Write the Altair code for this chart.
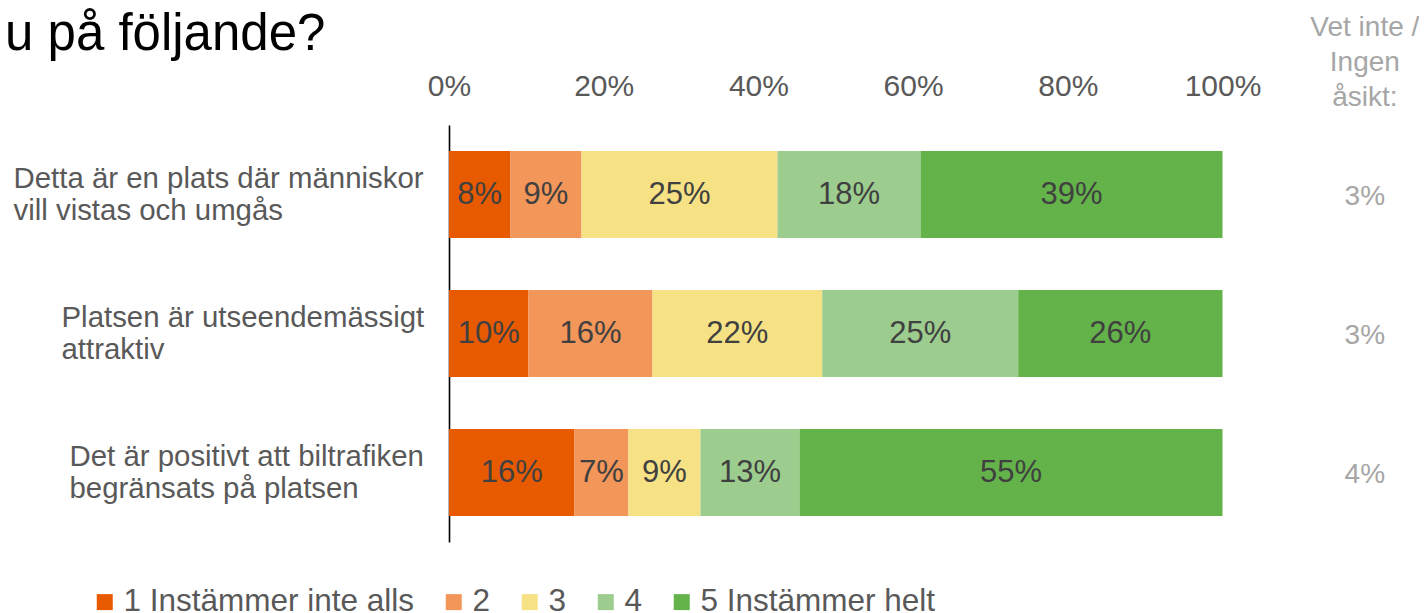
import altair as alt
import pandas as pd

# ---- data ----
questions = [
    "Detta är en plats där människor|vill vistas och umgås",
    "Platsen är utseendemässigt|attraktiv",
    "Det är positivt att biltrafiken|begränsats på platsen",
]
categories = ["1 Instämmer inte alls", "2", "3", "4", "5 Instämmer helt"]
colors = ["#E85A00", "#F29659", "#F6E285", "#9DCC8F", "#63B34A"]

values_q1 = [7.95, 9.18, 25.34, 18.49, 39.04]
values_q2 = [10.28, 16.03, 21.94, 25.34, 26.41]
values_q3 = [16.22, 6.98, 9.31, 12.80, 54.69]

labels_q1 = ["8%", "9%", "25%", "18%", "39%"]
labels_q2 = ["10%", "16%", "22%", "25%", "26%"]
labels_q3 = ["16%", "7%", "9%", "13%", "55%"]

dont_know = ["3%", "3%", "4%"]
dont_know_header = "Vet inte /|Ingen|åsikt:"
title_text = "u på följande?"
axis_ticks = [0, 20, 40, 60, 80, 100]

# ---- tables ----
rows = []
for q, vals, labs in zip(questions, [values_q1, values_q2, values_q3],
                         [labels_q1, labels_q2, labels_q3]):
    for i, (c, v, l) in enumerate(zip(categories, vals, labs)):
        rows.append({"question": q, "category": c, "order": i, "value": v, "label": l})
df = pd.DataFrame(rows)
df_dk = pd.DataFrame({"question": questions, "dk": dont_know})
df_head = pd.DataFrame({"t": [dont_know_header]})
df_title = pd.DataFrame({"t": [title_text]})

FONT = "Liberation Sans"
DK_X = 118.4

# left-aligned two-line category labels (block right edge near the axis)
label_padding = {
    "condition": [
        {"test": "indexof(datum.value, 'Detta') == 0", "value": 436},
        {"test": "indexof(datum.value, 'Platsen') == 0", "value": 388},
    ],
    "value": 380,
}

y_enc = alt.Y(
    "question:N",
    sort=questions,
    scale=alt.Scale(paddingInner=0.374, paddingOuter=0.187),
    axis=alt.Axis(
        title=None, ticks=False, tickSize=0, domain=True, domainColor="#000000",
        domainWidth=1.6, labelFontSize=29.4, labelColor="#595959",
        labelPadding=label_padding, labelAlign="left", labelOffset=-16,
        labelExpr="split(datum.label, '|')", labelLineHeight=32, labelLimit=0,
        labelFont=FONT,
    ),
)

x_scale = alt.Scale(domain=[0, 100], nice=False, zero=True)

bars = alt.Chart(df).mark_bar().encode(
    y=y_enc,
    x=alt.X(
        "value:Q", stack="zero", scale=x_scale,
        axis=alt.Axis(
            orient="top", values=axis_ticks, labelExpr="datum.value + '%'",
            title=None, ticks=False, tickSize=0, domain=False, grid=False,
            labelFlush=False, labelFontSize=30, labelColor="#595959",
            labelPadding=24, labelFont=FONT,
        ),
    ),
    color=alt.Color(
        "category:N",
        scale=alt.Scale(domain=categories, range=colors),
        legend=alt.Legend(
            orient="none", legendX=-360, legendY=461, direction="horizontal",
            title=None, symbolType="square", symbolSize=256, symbolStrokeWidth=0,
            labelFontSize=31.5, labelColor="#595959", labelOffset=3,
            columnPadding=23, padding=0, labelLimit=0, labelFont=FONT,
        ),
    ),
    order=alt.Order("order:Q"),
)

value_text = alt.Chart(df).transform_stack(
    stack="value", groupby=["question"], as_=["x0", "x1"],
    sort=[alt.SortField("order", order="ascending")],
).transform_calculate(mid="(datum.x0 + datum.x1) / 2").mark_text(
    fontSize=31, color="#404040", font=FONT, baseline="middle", align="center"
).encode(
    y=alt.Y("question:N", sort=questions),
    x=alt.X("mid:Q", scale=x_scale),
    text="label:N",
)

dk_text = alt.Chart(df_dk).mark_text(
    fontSize=28, color="#A6A6A6", font=FONT, baseline="middle", align="center", dy=2
).encode(
    y=alt.Y("question:N", sort=questions),
    x=alt.datum(DK_X),
    text="dk:N",
)

header = alt.Chart(df_head).mark_text(
    fontSize=28, color="#A6A6A6", font=FONT, baseline="middle", align="center",
    lineBreak="|", lineHeight=35,
).encode(
    x=alt.datum(DK_X),
    y=alt.value(-97),
    text="t:N",
)

title = alt.Chart(df_title).mark_text(
    fontSize=51, color="#000000", font=FONT, baseline="alphabetic", align="left",
).encode(
    x=alt.value(-444),
    y=alt.value(-75),
    text="t:N",
)

chart = alt.layer(bars, value_text, dk_text, header, title).properties(
    width=773.5,
    height=417,
    autosize=alt.AutoSizeParams(type="none"),
    padding={"left": 441, "top": 117, "right": 196, "bottom": 75},
).configure(font=FONT).configure_view(stroke=None)

chart.save("out.html", embed_options={"renderer": "svg", "actions": False})
